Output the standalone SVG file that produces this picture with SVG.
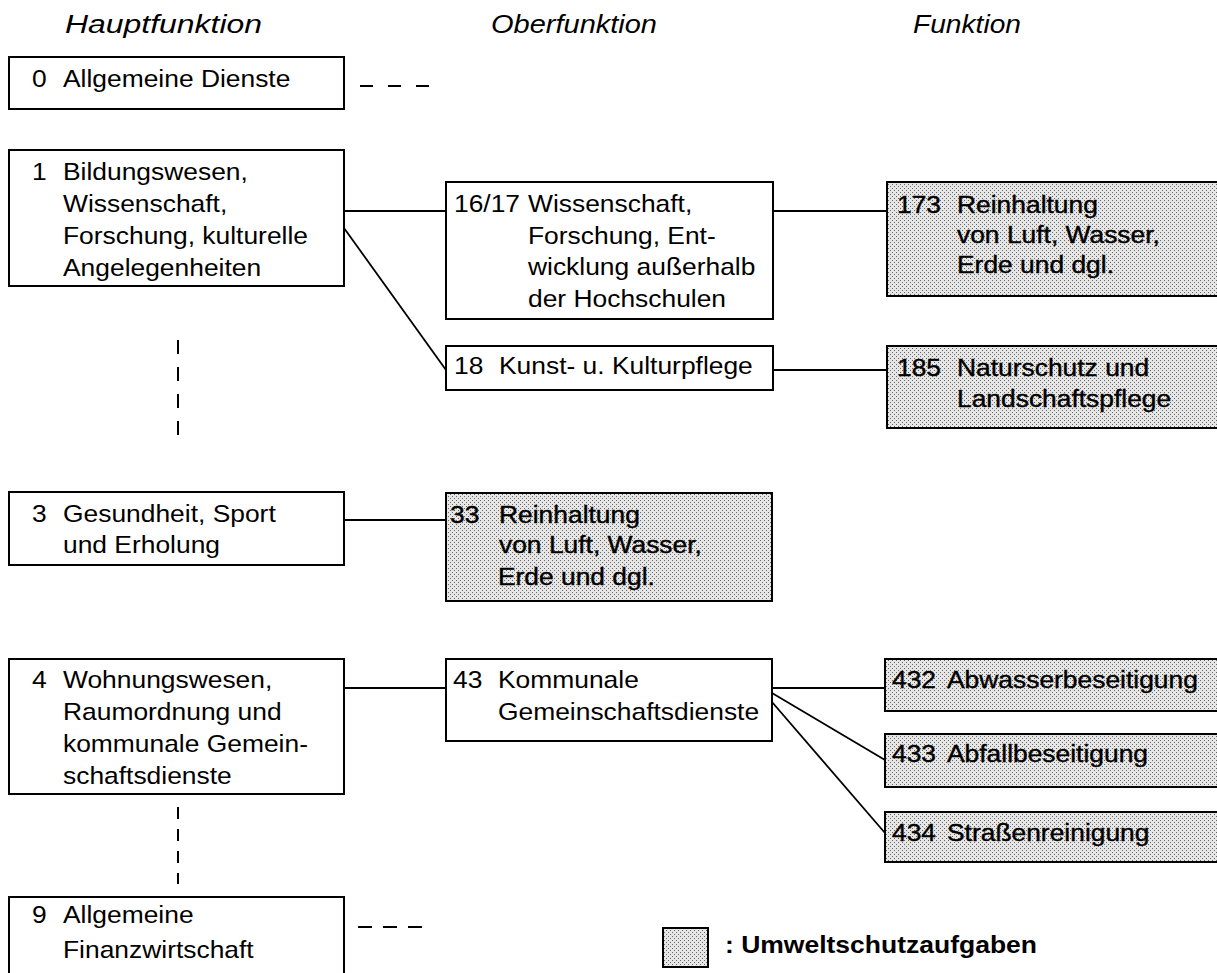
<svg xmlns="http://www.w3.org/2000/svg" width="1217" height="973" viewBox="0 0 1217 973">
<style>
.t{font-family:"Liberation Sans",Arial,Helvetica,sans-serif;font-size:24px;fill:#000}
.tg{stroke:#000;stroke-width:0.4}
.h{font-family:"Liberation Sans",Arial,Helvetica,sans-serif;font-size:25px;font-style:italic;fill:#000}
.lg{font-family:"Liberation Sans",Arial,Helvetica,sans-serif;font-size:24px;font-weight:bold;fill:#000}
.b{fill:#fff;stroke:#000;stroke-width:2}
.g{fill:url(#dots);stroke:#000;stroke-width:2}
.c{stroke:#000;stroke-width:1.8;fill:none}
.d{stroke:#000;stroke-width:2;fill:none}
</style>
<defs>
<pattern id="dots" patternUnits="userSpaceOnUse" width="4" height="4">
<rect width="4" height="4" fill="#e6e6e6"/>
<rect x="0" y="0" width="1" height="1" fill="#666"/>
<rect x="2" y="2" width="1" height="1" fill="#666"/>
</pattern>
</defs>
<rect width="1217" height="973" fill="#fff"/>

<g id="headers">
<text class="h" x="65" y="33" textLength="197" lengthAdjust="spacingAndGlyphs">Hauptfunktion</text>
<text class="h" x="491" y="33" textLength="166" lengthAdjust="spacingAndGlyphs">Oberfunktion</text>
<text class="h" x="913" y="33" textLength="108" lengthAdjust="spacingAndGlyphs">Funktion</text>
</g>

<g id="connectors">
<line class="c" x1="344" y1="211" x2="446" y2="211"/>
<line class="c" x1="344" y1="228" x2="446" y2="370"/>
<line class="c" x1="773" y1="211" x2="887" y2="211"/>
<line class="c" x1="773" y1="370" x2="887" y2="370"/>
<line class="c" x1="344" y1="520" x2="446" y2="520"/>
<line class="c" x1="344" y1="688" x2="446" y2="688"/>
<line class="c" x1="772" y1="688" x2="885" y2="688"/>
<line class="c" x1="772" y1="693" x2="885" y2="760"/>
<line class="c" x1="772" y1="702" x2="885" y2="833"/>
<line class="d" x1="360" y1="86" x2="431" y2="86" stroke-dasharray="13 15"/>
<line class="d" x1="358" y1="927" x2="424" y2="927" stroke-dasharray="14 11"/>
<line class="d" x1="178" y1="340" x2="178" y2="436" stroke-dasharray="14 13"/>
<line class="d" x1="178" y1="807" x2="178" y2="884" stroke-dasharray="12 10"/>
</g>

<g id="n0">
<rect class="b" x="9" y="57" width="335" height="52"/>
<text class="t" transform="translate(32 87) scale(1.1 1)">0</text>
<text class="t" transform="translate(63 87) scale(1.1 1)">Allgemeine Dienste</text>
</g>

<g id="n1">
<rect class="b" x="9" y="150" width="335" height="136"/>
<text class="t" transform="translate(32 180) scale(1.1 1)">1</text>
<text class="t" transform="translate(63 180) scale(1.1 1)"><tspan x="0" y="0">Bildungswesen,</tspan><tspan x="0" y="32">Wissenschaft,</tspan><tspan x="0" y="64">Forschung, kulturelle</tspan><tspan x="0" y="96">Angelegenheiten</tspan></text>
</g>

<g id="n3">
<rect class="b" x="9" y="492" width="335" height="73"/>
<text class="t" transform="translate(32 522) scale(1.1 1)">3</text>
<text class="t" transform="translate(63 522) scale(1.1 1)"><tspan x="0" y="0">Gesundheit, Sport</tspan><tspan x="0" y="31">und Erholung</tspan></text>
</g>

<g id="n4">
<rect class="b" x="9" y="659" width="335" height="135"/>
<text class="t" transform="translate(32 688) scale(1.1 1)">4</text>
<text class="t" transform="translate(63 688) scale(1.1 1)"><tspan x="0" y="0">Wohnungswesen,</tspan><tspan x="0" y="32">Raumordnung und</tspan><tspan x="0" y="64">kommunale Gemein-</tspan><tspan x="0" y="96">schaftsdienste</tspan></text>
</g>

<g id="n9">
<rect class="b" x="9" y="897" width="335" height="90"/>
<text class="t" transform="translate(32 923) scale(1.1 1)">9</text>
<text class="t" transform="translate(63 923) scale(1.1 1)"><tspan x="0" y="0">Allgemeine</tspan><tspan x="0" y="35">Finanzwirtschaft</tspan></text>
</g>

<g id="n1617">
<rect class="b" x="446" y="182" width="327" height="137"/>
<text class="t" transform="translate(454 212) scale(1.1 1)">16/17</text>
<text class="t" transform="translate(528 212) scale(1.1 1)"><tspan x="0" y="0">Wissenschaft,</tspan><tspan x="0" y="32">Forschung, Ent-</tspan><tspan x="0" y="63">wicklung außerhalb</tspan><tspan x="0" y="95">der Hochschulen</tspan></text>
</g>

<g id="n18">
<rect class="b" x="446" y="346" width="327" height="44"/>
<text class="t" transform="translate(454 374) scale(1.1 1)">18</text>
<text class="t" transform="translate(499 374) scale(1.1 1)">Kunst- u. Kulturpflege</text>
</g>

<g id="n33">
<rect class="g" x="446" y="493" width="326" height="108"/>
<text class="t tg" transform="translate(450 523) scale(1.1 1)">33</text>
<text class="t tg" transform="translate(499 523) scale(1.1 1)"><tspan x="0" y="0">Reinhaltung</tspan><tspan x="0" y="30">von Luft, Wasser,</tspan><tspan x="-1" y="62">Erde und dgl.</tspan></text>
</g>

<g id="n43">
<rect class="b" x="446" y="659" width="326" height="82"/>
<text class="t" transform="translate(453 688) scale(1.1 1)">43</text>
<text class="t" transform="translate(498 688) scale(1.1 1)"><tspan x="0" y="0">Kommunale</tspan><tspan x="0" y="32">Gemeinschaftsdienste</tspan></text>
</g>

<g id="n173">
<rect class="g" x="887" y="182" width="345" height="114"/>
<text class="t tg" transform="translate(897 213) scale(1.1 1)">173</text>
<text class="t tg" transform="translate(957 213) scale(1.1 1)"><tspan x="0" y="0">Reinhaltung</tspan><tspan x="0" y="30">von Luft, Wasser,</tspan><tspan x="0" y="60">Erde und dgl.</tspan></text>
</g>

<g id="n185">
<rect class="g" x="887" y="346" width="345" height="82"/>
<text class="t tg" transform="translate(897 376) scale(1.1 1)">185</text>
<text class="t tg" transform="translate(957 376) scale(1.1 1)"><tspan x="0" y="0">Naturschutz und</tspan><tspan x="0" y="31">Landschaftspflege</tspan></text>
</g>

<g id="n432">
<rect class="g" x="885" y="659" width="347" height="52"/>
<text class="t tg" transform="translate(892 688) scale(1.1 1)">432</text>
<text class="t tg" transform="translate(947 688) scale(1.1 1)">Abwasserbeseitigung</text>
</g>

<g id="n433">
<rect class="g" x="885" y="734" width="347" height="53"/>
<text class="t tg" transform="translate(892 762) scale(1.1 1)">433</text>
<text class="t tg" transform="translate(947 762) scale(1.1 1)">Abfallbeseitigung</text>
</g>

<g id="n434">
<rect class="g" x="885" y="812" width="347" height="50"/>
<text class="t tg" transform="translate(892 841) scale(1.1 1)">434</text>
<text class="t tg" transform="translate(947 841) scale(1.1 1)">Straßenreinigung</text>
</g>

<g id="legend">
<rect class="g" x="663" y="928" width="45" height="39"/>
<text class="lg" x="725" y="953" textLength="312" lengthAdjust="spacingAndGlyphs">: Umweltschutzaufgaben</text>
</g>
</svg>
